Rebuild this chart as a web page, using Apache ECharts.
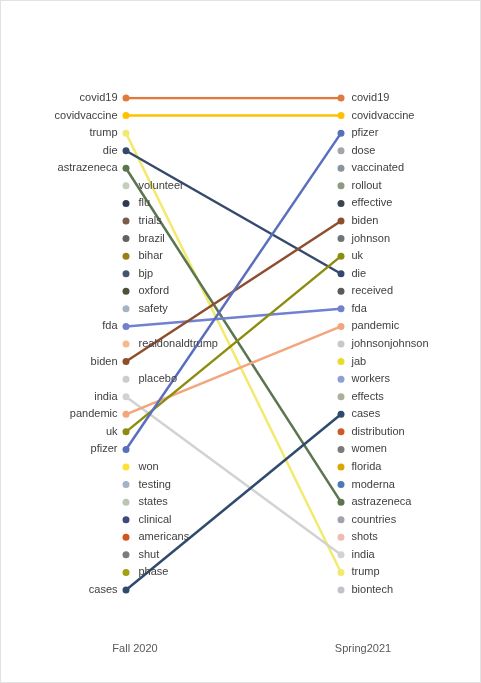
<!DOCTYPE html>
<html>
<head>
<meta charset="utf-8">
<script src="https://cdn.jsdelivr.net/npm/echarts@6/dist/echarts.min.js"></script>
<style>
  html, body { margin: 0; padding: 0; background: #fff; }
  #main { width: 481px; height: 683px; box-sizing: border-box; border: 1px solid #e2e2e2; }
</style>
</head>
<body>
<div id="main"></div>
<script>
// the two periods on the x axis
const periods = ['Fall 2020', 'Spring2021'];

// top words by rank (index 0 = rank 1)
const fallWords = ['covid19', 'covidvaccine', 'trump', 'die', 'astrazeneca', 'volunteer', 'flu',
  'trials', 'brazil', 'bihar', 'bjp', 'oxford', 'safety', 'fda', 'realdonaldtrump', 'biden',
  'placebo', 'india', 'pandemic', 'uk', 'pfizer', 'won', 'testing', 'states', 'clinical',
  'americans', 'shut', 'phase', 'cases'];
const springWords = ['covid19', 'covidvaccine', 'pfizer', 'dose', 'vaccinated', 'rollout',
  'effective', 'biden', 'johnson', 'uk', 'die', 'received', 'fda', 'pandemic', 'johnsonjohnson',
  'jab', 'workers', 'effects', 'cases', 'distribution', 'women', 'florida', 'moderna',
  'astrazeneca', 'countries', 'shots', 'india', 'trump', 'biontech'];

// colour per word
const wordColors = {
  covid19: '#e07a3c', covidvaccine: '#ffc000', trump: '#f2ea6e', die: '#34496b',
  astrazeneca: '#5b7550', volunteer: '#c3cfbb', flu: '#2f3a4f', trials: '#7a5c4a',
  brazil: '#626262', bihar: '#9a7f14', bjp: '#44546a', oxford: '#4f4f3a', safety: '#a5b3c6',
  fda: '#7280d0', realdonaldtrump: '#f5b98e', biden: '#8e4e2c', placebo: '#cccccc',
  india: '#d2d2d2', pandemic: '#f3a57c', uk: '#8c8c10', pfizer: '#5a6fbb', won: '#ffe135',
  testing: '#a3b2c9', states: '#bac6b2', clinical: '#3c4a7c', americans: '#d2561c',
  shut: '#7c7c7c', phase: '#a0a010', cases: '#2f4a6c',
  dose: '#a4a4ac', vaccinated: '#87959f', rollout: '#8f9a82', effective: '#3a4452',
  johnson: '#6e7478', received: '#5a5a5a', johnsonjohnson: '#c8c8c8', jab: '#e8dc2a',
  workers: '#8ea0d2', effects: '#a9b19a', distribution: '#d0582a', women: '#7a7a7a',
  florida: '#d9a800', moderna: '#4a7ab8', countries: '#a2a2aa', shots: '#f1bab2',
  biontech: '#c2c2ca'
};

const allWords = [];
fallWords.concat(springWords).forEach(w => { if (!allWords.includes(w)) allWords.push(w); });

const labelStyle = { color: '#404040', fontSize: 11, fontFamily: 'Liberation Sans' };

const series = allWords.map(word => {
  const l = fallWords.indexOf(word);
  const r = springWords.indexOf(word);
  const data = [];
  if (l >= 0) {
    data.push({
      value: [0, l + 1],
      label: Object.assign({ show: true, formatter: word,
        position: r >= 0 ? 'left' : 'right', distance: r >= 0 ? 5 : 9 }, labelStyle)
    });
  }
  if (r >= 0) {
    data.push({
      value: [1, r + 1],
      label: Object.assign({ show: true, formatter: word, position: 'right', distance: 7 }, labelStyle)
    });
  }
  return {
    name: word,
    type: 'line',
    data: data,
    symbol: 'circle',
    symbolSize: 7,
    itemStyle: { color: wordColors[word] },
    lineStyle: { color: wordColors[word], width: 2.5 },
    silent: true,
    animation: false
  };
});

const chart = echarts.init(document.getElementById('main'));
chart.setOption({
  animation: false,
  grid: { left: 125, right: 139, top: 97, bottom: 92 },
  xAxis: [{
    type: 'value', min: 0, max: 1, show: false
  }, {
    type: 'category', data: periods, boundaryGap: false, position: 'bottom',
    axisLine: { show: false }, axisTick: { show: false }, splitLine: { show: false },
    offset: 45,
    axisLabel: {
      color: '#595959', fontSize: 11, fontFamily: 'Liberation Sans',
      formatter: (v, i) => '{p' + i + '|' + v + '}',
      rich: { p0: { padding: [0, 0, 0, 18] }, p1: { padding: [0, 0, 0, 44] } }
    }
  }],
  yAxis: { type: 'value', min: 1, max: 29, inverse: true, show: false },
  series: series
});
</script>
</body>
</html>
